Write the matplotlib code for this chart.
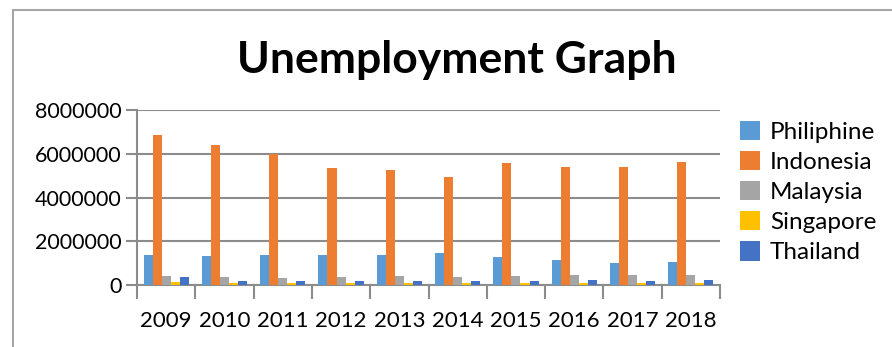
import numpy as np
import matplotlib.pyplot as plt
from matplotlib.patches import Rectangle

plt.rcParams['font.family'] = ['Lato', 'DejaVu Sans']

years = ['2009', '2010', '2011', '2012', '2013', '2014', '2015', '2016', '2017', '2018']
countries = ['Philiphine', 'Indonesia', 'Malaysia', 'Singapore', 'Thailand']
colors = ['#5B9BD5', '#ED7D31', '#A5A5A5', '#FFC000', '#4472C4']

philippine = [1380000, 1330000, 1390000, 1360000, 1390000, 1470000, 1270000, 1150000, 1020000, 1070000]
indonesia = [6850000, 6420000, 6010000, 5370000, 5240000, 4950000, 5600000, 5380000, 5380000, 5630000]
malaysia = [390000, 350000, 320000, 350000, 390000, 350000, 400000, 440000, 470000, 470000]
singapore = [120000, 80000, 70000, 70000, 70000, 80000, 80000, 100000, 100000, 80000]
thailand = [350000, 200000, 200000, 200000, 170000, 200000, 180000, 210000, 180000, 210000]
series = [philippine, indonesia, malaysia, singapore, thailand]

W, H = 892, 347
fig = plt.figure(figsize=(W / 100, H / 100), dpi=100)

# outer chart frame (cut off on right and bottom)
fig.patches.append(Rectangle((13 / W, -0.1), 1.2, 1 - 10 / H + 0.1,
                             transform=fig.transFigure, fill=False,
                             edgecolor='#a6a6a6', linewidth=1.5))

ax = fig.add_axes([137 / W, 1 - 285 / H, (720 - 137) / W, (285 - 110) / H])

x = np.arange(len(years))
bw = 0.155
for i, (name, vals) in enumerate(zip(countries, series)):
    ax.bar(x + (i - 2) * bw, vals, bw, color=colors[i], label=name, zorder=3)

ax.set_xlim(-0.5, len(years) - 0.5)
ax.set_ylim(0, 8000000)
ax.set_yticks([0, 2000000, 4000000, 6000000, 8000000])
ax.set_yticklabels(['0', '2000000', '4000000', '6000000', '8000000'])
ax.set_xticks(x)
ax.set_xticklabels(years)
ax.set_xticks(np.arange(-0.5, len(years)), minor=True)
ax.tick_params(axis='x', which='major', length=0, pad=19, labelsize=16)
ax.tick_params(axis='x', which='minor', length=10, width=1.5, color='#8c8c8c')
ax.tick_params(axis='y', length=8, width=1.5, color='#8c8c8c', labelsize=15.5, pad=3)
ax.grid(axis='y', color='#8c8c8c', linewidth=1.5, zorder=0)
for s in ['top', 'right']:
    ax.spines[s].set_visible(False)
for s in ['left', 'bottom']:
    ax.spines[s].set_color('#8c8c8c')
    ax.spines[s].set_linewidth(1.5)

fig.text(457 / W, 1 - 60 / H, 'Unemployment Graph', ha='center', va='center',
         fontsize=32, fontweight='bold')

fig.legend(loc='upper left', bbox_to_anchor=(730 / W, 1 - 111 / H), frameon=False,
           fontsize=17.5, handlelength=0.85, handleheight=0.85, handletextpad=0.4,
           labelspacing=0.33, borderaxespad=0)

fig.savefig('out.png', dpi=100)
